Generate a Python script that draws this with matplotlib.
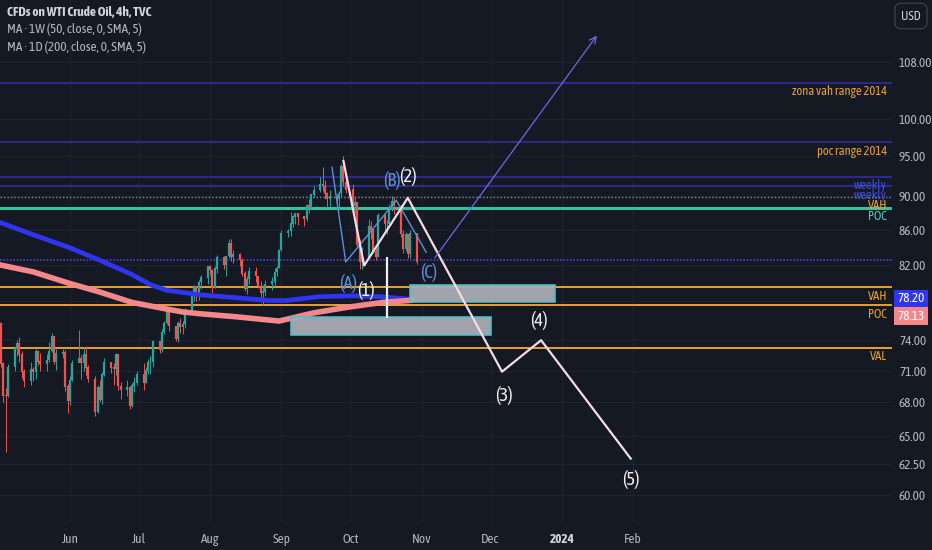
import matplotlib
matplotlib.use("Agg")
import matplotlib.pyplot as plt
import matplotlib.dates as mdates
from matplotlib.patches import Rectangle
from matplotlib.ticker import NullLocator
import pandas as pd

# daily candles (close / high / low), CFD WTI
closes_may = [75.66, 71.66, 68.60, 68.56, 71.34, 73.16, 73.71, 72.56, 70.87, 70.04, 71.11, 70.86,
              72.83, 71.86, 71.69, 71.99, 72.91, 74.34, 71.83, 72.67, 72.80, 69.46, 68.09]
highs_may = [76.9, 75.9, 71.8, 69.3, 71.6, 73.3, 74.0, 74.3, 72.9, 71.2, 71.8, 71.4,
             73.1, 73.0, 72.7, 72.6, 73.8, 74.7, 74.4, 73.1, 73.1, 73.0, 69.7]
lows_may = [75.0, 71.4, 68.0, 63.6, 68.5, 71.0, 72.4, 71.8, 70.3, 69.4, 69.6, 70.0,
            70.2, 71.5, 71.0, 71.0, 71.8, 72.8, 71.6, 71.1, 72.2, 69.1, 67.0]

closes_jun = [70.10, 71.74, 72.15, 71.74, 72.53, 71.29, 70.17, 67.12, 69.42, 68.27, 70.62,
              71.78, 71.30, 71.19, 72.53, 69.51, 69.16, 69.37, 67.70, 69.56, 69.86, 70.64]
highs_jun = [70.5, 72.0, 75.0, 72.5, 73.3, 73.4, 71.5, 70.5, 69.6, 70.1, 70.9,
             72.2, 71.8, 71.7, 72.7, 72.4, 69.9, 70.1, 69.5, 69.8, 70.4, 71.0]
lows_jun = [67.8, 70.0, 71.9, 70.2, 71.0, 70.6, 69.9, 66.8, 67.0, 68.0, 67.9,
            70.5, 70.8, 69.6, 70.6, 69.2, 68.3, 68.6, 67.4, 67.6, 69.0, 69.6]

closes_jul = [69.79, 71.00, 71.79, 71.80, 73.86, 72.99, 74.83, 75.75, 76.89, 75.42, 74.15,
              75.75, 75.35, 75.63, 77.07, 78.74, 79.63, 78.78, 80.09, 80.58, 81.80]
highs_jul = [71.7, 71.4, 72.1, 72.4, 74.0, 73.9, 75.1, 76.0, 77.3, 77.0, 75.4,
             76.0, 76.3, 76.0, 77.3, 79.0, 79.8, 79.4, 80.3, 80.9, 81.8]
lows_jul = [69.2, 69.8, 70.7, 70.7, 71.4, 72.7, 72.8, 74.6, 75.6, 74.9, 73.9,
            73.8, 74.7, 74.6, 75.2, 76.9, 78.1, 78.0, 78.2, 79.3, 79.9]

closes_aug = [81.37, 79.49, 81.55, 82.82, 81.94, 82.92, 84.40, 82.82, 83.19, 82.51, 80.99, 79.38,
              80.39, 81.25, 80.72, 79.64, 78.89, 79.05, 79.83, 80.10, 81.16, 81.63, 83.63]
highs_aug = [82.0, 81.5, 81.9, 83.1, 83.0, 83.0, 84.9, 84.9, 83.6, 83.3, 82.7, 81.3,
             80.8, 81.7, 81.7, 80.8, 80.2, 79.8, 80.3, 80.6, 81.6, 81.8, 83.8]
lows_aug = [80.9, 78.9, 79.4, 81.1, 81.5, 80.7, 82.8, 82.4, 82.2, 81.9, 80.8, 79.1,
            78.8, 79.9, 80.1, 79.4, 77.9, 77.6, 78.6, 79.2, 79.6, 80.7, 81.6]

closes_sep = [85.55, 85.80, 86.69, 87.54, 87.87, 87.51, 87.29, 88.84, 88.52, 90.16, 90.77,
              91.48, 91.20, 90.28, 89.63, 90.03, 89.68, 90.39, 93.68, 91.71, 90.79]
highs_sep = [86.0, 86.1, 88.1, 87.7, 88.0, 87.8, 87.6, 89.0, 89.6, 90.3, 91.2,
             92.4, 93.7, 92.0, 90.5, 90.8, 90.3, 90.6, 94.0, 95.0, 92.4]
lows_sep = [83.5, 85.2, 85.3, 86.3, 86.7, 86.5, 86.4, 87.0, 88.0, 88.5, 89.9,
            90.5, 90.6, 89.6, 88.6, 88.8, 88.5, 88.3, 90.0, 91.2, 90.4]

closes_oct = [88.82, 89.23, 84.22, 82.31, 82.79, 86.38, 85.97, 83.49, 82.91, 87.69, 86.66,
              86.66, 88.32, 89.37, 88.75, 85.49, 83.74, 85.39, 83.21, 85.54, 82.31]
highs_oct = [91.5, 89.9, 89.3, 84.9, 84.0, 87.2, 87.0, 86.2, 83.9, 88.0, 87.8,
             87.1, 89.1, 90.0, 89.9, 88.9, 86.0, 85.7, 85.5, 86.0, 85.4]
lows_oct = [88.5, 88.0, 84.0, 81.5, 81.5, 84.0, 84.9, 83.3, 82.5, 82.9, 85.9,
            85.5, 86.7, 88.2, 87.8, 85.2, 83.3, 83.5, 82.8, 82.7, 82.1]
first_open = 76.8

# moving averages
ma_1w_dates = ["2023-05-01", "2023-05-16", "2023-05-31", "2023-06-14", "2023-06-28", "2023-07-06",
               "2023-07-13", "2023-07-28", "2023-08-12", "2023-08-27", "2023-09-03", "2023-09-17",
               "2023-10-01", "2023-10-15", "2023-10-28"]
ma_1w = [86.9, 85.4, 84.0, 82.5, 80.9, 79.8, 79.2, 78.7, 78.4, 78.1, 78.1, 78.5, 78.6, 78.5, 78.20]
ma_1d_dates = ["2023-05-01", "2023-05-16", "2023-05-31", "2023-06-14", "2023-06-28", "2023-07-13",
               "2023-07-20", "2023-07-28", "2023-08-12", "2023-08-31", "2023-09-15", "2023-09-30",
               "2023-10-15", "2023-10-28"]
ma_1d = [82.0, 81.2, 80.0, 79.0, 77.9, 77.2, 76.9, 76.7, 76.4, 75.95, 76.8, 77.4, 77.9, 78.13]

# levels
indigo_levels = [105.0, 96.9, 92.4, 91.2]
weekly_dotted = 89.9
poc_teal = 88.6
dotted_low = 82.5
vah, poc, val = 79.5, 77.6, 73.2

# drawings
wave_dates = ["2023-09-28", "2023-10-07", "2023-10-26", "2023-12-06", "2023-12-23", "2024-01-31"]
wave_prices = [94.4, 81.9, 89.8, 70.9, 74.0, 63.0]
abc_dates = ["2023-09-23", "2023-09-29", "2023-10-21", "2023-11-03"]
abc_prices = [93.6, 82.3, 89.5, 83.4]
arrow_start = ("2023-11-06", 82.5)
arrow_end = ("2024-01-17", 112.3)
vline_date, vline_top, vline_bottom = "2023-10-17", 82.9, 76.3
boxes = [("2023-10-27", "2023-12-29", 77.9, 79.8), ("2023-09-05", "2023-12-01", 74.5, 76.4)]
wave_labels = [("(1)", "2023-10-08", 79.2), ("(2)", "2023-10-26", 92.4), ("(3)", "2023-12-07", 68.6),
               ("(4)", "2023-12-22", 76.0), ("(5)", "2024-01-31", 61.2)]
abc_labels = [("(A)", "2023-09-30", 79.9), ("(B)", "2023-10-19", 91.9), ("(C)", "2023-11-04", 81.1)]

price_ticks = [108, 100, 95, 90, 86, 82, 78, 74, 71, 68, 65, 62.5, 60]
month_ticks = ["2023-06-01", "2023-07-01", "2023-08-01", "2023-09-01", "2023-10-01",
               "2023-11-01", "2023-12-01", "2024-01-01", "2024-02-01"]
month_labels = ["Jun", "Jul", "Aug", "Sep", "Oct", "Nov", "Dec", "2024", "Feb"]

plt.rcParams["font.family"] = ["Asap Condensed", "DejaVu Sans"]

BG = "#151924"
TXT = "#b2b5be"
ORANGE = "#e8a033"

fig = plt.figure(figsize=(9.32, 5.5), dpi=100, facecolor=BG)
ax = fig.add_axes([0, 28 / 550, 892 / 932, 522 / 550])
ax.set_facecolor(BG)
ax.set_yscale("log")
ax.set_ylim(57.8, 117.5)
jun1 = pd.Timestamp("2023-06-01")
ax.set_xlim(mdates.date2num(jun1 - pd.Timedelta(days=30.46)),
            mdates.date2num(jun1 + pd.Timedelta(days=357.7)))
for s in ax.spines.values():
    s.set_visible(False)

# axes ticks
ax.yaxis.set_minor_locator(NullLocator())
ax.set_yticks(price_ticks)
ax.set_yticklabels(["" if p == 78 else f"{p:.2f}" for p in price_ticks])
ax.yaxis.tick_right()
ax.tick_params(axis="y", length=0, pad=5, labelsize=9.5, labelcolor=TXT)
ax.set_xticks([mdates.date2num(pd.Timestamp(d)) for d in month_ticks])
ax.set_xticklabels(month_labels)
ax.tick_params(axis="x", length=0, pad=8, labelsize=9.5, labelcolor=TXT)
for lbl in ax.get_xticklabels():
    if lbl.get_text() == "2024":
        lbl.set_color("#d1d4dc")
        lbl.set_fontweight("bold")
ax.grid(True, color="#1f2330", lw=0.8)
ax.set_axisbelow(True)

# horizontal levels
for lv in indigo_levels:
    ax.axhline(lv, color="#2d2a86", lw=1.5, zorder=1)
ax.axhline(weekly_dotted, color="#8a8a8a", lw=1, ls=(0, (1, 1.5)), zorder=1)
ax.axhline(dotted_low, color="#4a44c8", lw=1.2, ls=(0, (1, 1)), zorder=1)
ax.axhline(poc_teal, color="#3bbf9b", lw=2.2, zorder=2)
for lv in (vah, poc, val):
    ax.axhline(lv, color=ORANGE, lw=1.4, zorder=2)

# candles
closes = closes_may + closes_jun + closes_jul + closes_aug + closes_sep + closes_oct
highs = highs_may + highs_jun + highs_jul + highs_aug + highs_sep + highs_oct
lows = lows_may + lows_jun + lows_jul + lows_aug + lows_sep + lows_oct
days = pd.bdate_range("2023-05-01", "2023-10-30")
opens = [first_open] + closes[:-1]
x = mdates.date2num(days)
for xi, o, h, l, c in zip(x, opens, highs, lows, closes):
    col = "#26a69a" if c >= o else "#ef5350"
    ax.vlines(xi, l, h, color=col, lw=0.7, zorder=3)
    ax.vlines(xi, min(o, c), max(o, c) + 0.05, color=col, lw=1.6, zorder=3)

# moving averages
ax.plot(pd.to_datetime(ma_1w_dates), ma_1w, color="#2f35f0", lw=3.4, zorder=4, solid_capstyle="round")
ax.plot(pd.to_datetime(ma_1d_dates), ma_1d, color="#f4878a", lw=4, zorder=4, solid_capstyle="round")

# zones
for d0, d1, lo, hi in boxes:
    x0 = mdates.date2num(pd.Timestamp(d0))
    x1 = mdates.date2num(pd.Timestamp(d1))
    ax.add_patch(Rectangle((x0, lo), x1 - x0, hi - lo, facecolor="#a9acb3", alpha=0.95,
                           edgecolor="#4fc0c8", lw=1.2, zorder=5))

# wave drawings
ax.plot(pd.to_datetime(abc_dates), abc_prices, color="#5d8fd6", lw=1, zorder=6)
ax.plot(pd.to_datetime(wave_dates), wave_prices, color="#f3dce6", lw=1.6, zorder=6)
ax.vlines(mdates.date2num(pd.Timestamp(vline_date)), vline_bottom, vline_top, color="#f0f0f0", lw=1.6, zorder=6)
ax.annotate("", xy=(pd.Timestamp(arrow_end[0]), arrow_end[1]),
            xytext=(pd.Timestamp(arrow_start[0]), arrow_start[1]),
            arrowprops=dict(arrowstyle="->", color="#7265e6", lw=0.9, mutation_scale=12), zorder=6)
for t, d, p in wave_labels:
    ax.text(pd.Timestamp(d), p, t, color="#f0f0f0", fontsize=13.5, ha="center", va="center", zorder=7)
for t, d, p in abc_labels:
    ax.text(pd.Timestamp(d), p, t, color="#5d8fd6", fontsize=13.5, ha="center", va="center", zorder=7)

# level labels (right side)
def px_text(xp, yp, s, color, **kw):
    fig.text(xp / 932, 1 - yp / 550, s, color=color, fontsize=9, va="center", **kw)

px_text(887, 92, "zona vah range 2014", ORANGE, ha="right")
px_text(887, 151, "poc range 2014", ORANGE, ha="right")
px_text(887, 185, "weekly", "#4050e0", ha="right")
px_text(887, 195, "weekly", "#4050e0", ha="right")
px_text(887, 205, "VAH", ORANGE, ha="right")
px_text(887, 217, "POC", "#5cc8c0", ha="right")
px_text(887, 297, "VAH", ORANGE, ha="right")
px_text(887, 314, "POC", ORANGE, ha="right")
px_text(887, 357, "VAL", ORANGE, ha="right")

# MA value tags on the price scale
fig.text(911 / 932, 1 - 299 / 550, "78.20", color="white", fontsize=9.5, ha="center", va="center",
         bbox=dict(boxstyle="square,pad=0.22", fc="#2f35f0", ec="none"))
fig.text(911 / 932, 1 - 316 / 550, "78.13", color="white", fontsize=9.5, ha="center", va="center",
         bbox=dict(boxstyle="square,pad=0.22", fc="#f4878a", ec="none"))
fig.text(911 / 932, 1 - 16 / 550, "USD", color="#d1d4dc", fontsize=9, ha="center", va="center",
         bbox=dict(boxstyle="round,pad=0.5", fc=BG, ec="#434651", lw=0.8))

# legend
fig.text(7 / 932, 1 - 13 / 550, "CFDs on WTI Crude Oil, 4h, TVC", color="#d1d4dc", fontsize=9.5,
         fontweight="bold", va="center")
fig.text(7 / 932, 1 - 30 / 550, "MA · 1W (50, close, 0, SMA, 5)", color="#b2b5be", fontsize=9.5, va="center")
fig.text(7 / 932, 1 - 47 / 550, "MA · 1D (200, close, 0, SMA, 5)", color="#b2b5be", fontsize=9.5, va="center")

fig.savefig("out.png", dpi=100, facecolor=BG)
